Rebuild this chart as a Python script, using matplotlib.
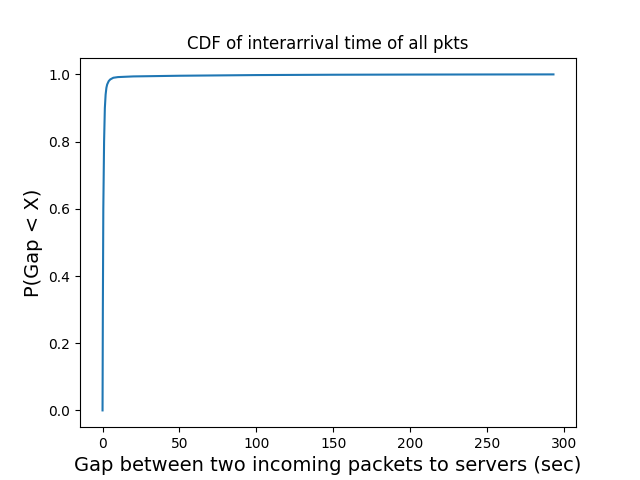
import matplotlib
matplotlib.use('Agg')
import matplotlib.pyplot as plt

# interarrival gap (sec) and cumulative probability
gap_sec = [0, 0.2, 0.5, 1, 1.5, 2, 2.5, 3, 4, 5, 7, 10, 20, 50, 100, 150,
           200, 250, 293]
cdf = [0, 0.3, 0.6, 0.8, 0.9, 0.94, 0.96, 0.97, 0.98, 0.985, 0.99, 0.992,
       0.994, 0.996, 0.998, 0.999, 0.9995, 0.9998, 1.0]

fig, ax = plt.subplots(figsize=(6.4, 4.8), dpi=100)
ax.plot(gap_sec, cdf)
ax.set_title('CDF of interarrival time of all pkts')
ax.set_xlabel('Gap between two incoming packets to servers (sec)', fontsize=14)
ax.set_ylabel('P(Gap < X)', fontsize=14)
fig.savefig('out.png')
